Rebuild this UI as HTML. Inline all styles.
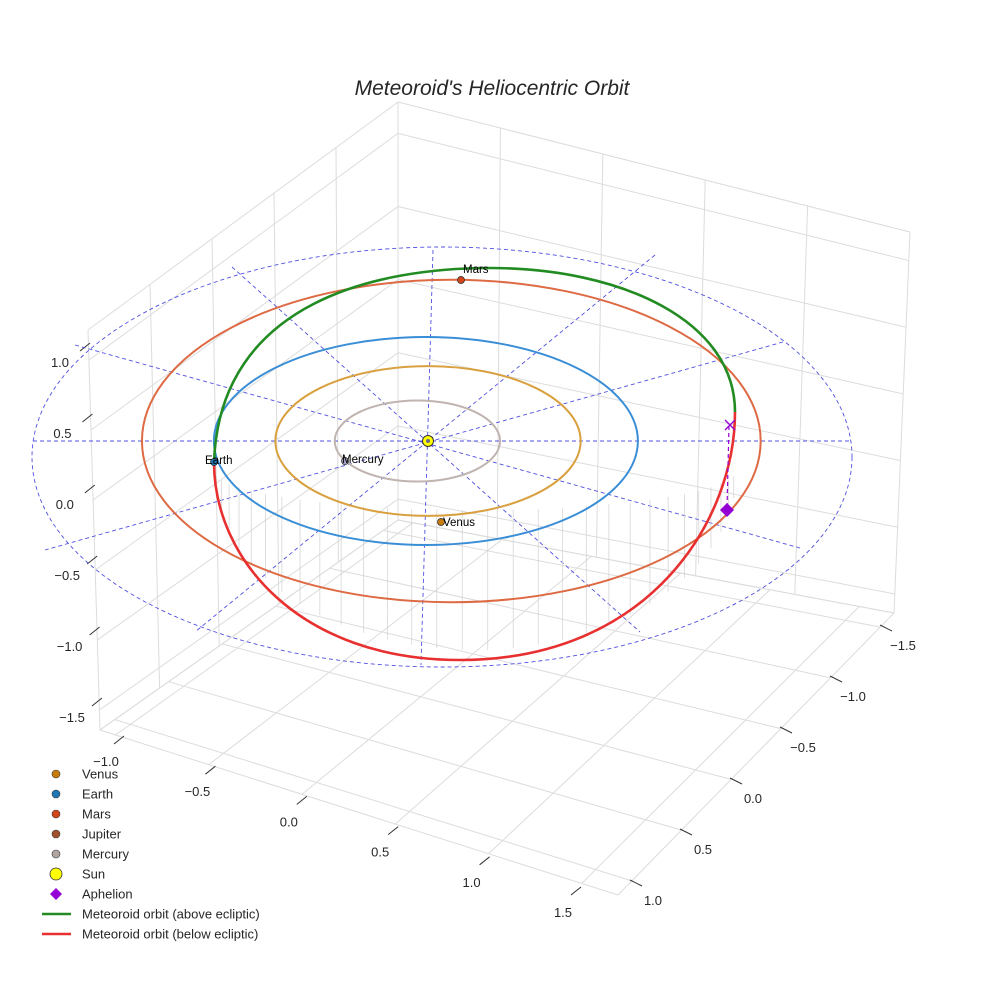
<!DOCTYPE html>
<html><head><meta charset="utf-8"><style>
html,body{margin:0;padding:0;background:#fff;}
svg{display:block;font-family:"Liberation Sans",sans-serif;}
</style></head><body>
<svg id="chart" width="984" height="984" viewBox="0 0 984 984" xmlns="http://www.w3.org/2000/svg">
<text x="492" y="95" text-anchor="middle" font-size="21" font-style="italic" fill="#262626">Meteoroid's Heliocentric Orbit</text>
<g id="grid"></g>
<g id="ticks"></g>
<g id="refs"></g>
<g id="orbits"></g>
<g id="met"></g>
<g id="marks"></g>
<g id="legend"></g>
</svg>
<script>
const NS="http://www.w3.org/2000/svg";
// data
const orbitNames=["Mercury","Venus","Earth","Mars"];
const orbitRadii=[0.39,0.72,1.0,1.52];
const orbitColors=["#c0b4b0","#d9a040","#3a8ed6","#de6a44"];
const orbitCenterShift=[-0.05,0,-0.01,0.11];
const xTicks=["−1.0","−0.5","0.0","0.5","1.0","1.5"];
const yTicks=["−1.5","−1.0","−0.5","0.0","0.5","1.0"];
const zTicks=["1.0","0.5","0.0","−0.5","−1.0","−1.5"];
const legendLabels=["Venus","Earth","Mars","Jupiter","Mercury","Sun","Aphelion","Meteoroid orbit (above ecliptic)","Meteoroid orbit (below ecliptic)"];
const legendColors=["#c77c0e","#1f77b4","#d2461c","#a0522d","#b0a49f","#ffff00","#9400d3","#228b22","#e83030"];

const CX=428,CY=441,KX=212,KY=104;
function el(tag,attrs,parent){const e=document.createElementNS(NS,tag);for(const k in attrs)e.setAttribute(k,attrs[k]);parent.appendChild(e);return e;}

// grid
const g=document.getElementById('grid');
const A=[100,730],B=[618,895],C=[894,613],D=[398,520],At=[88,330],Dt=[398,102],Ct=[910,232];
function lerp(p,q,t){return [p[0]+(q[0]-p[0])*t,p[1]+(q[1]-p[1])*t];}
function gl(a,b){const l=el('line',{x1:a[0],y1:a[1],x2:b[0],y2:b[1],stroke:'#dcdcdc','stroke-width':1},g);
  }
function quadGrid(p0,p1,p2,p3,fu,fv){
  fu.forEach(f=>gl(lerp(p0,p1,f),lerp(p3,p2,f)));
  fv.forEach(f=>gl(lerp(p0,p3,f),lerp(p1,p2,f)));
}
const fx=[0,0.03,0.21,0.39,0.57,0.75,0.93,1];
const fy=[0,0.05,0.23,0.41,0.59,0.77,0.95,1];
const fz=[0,0.05,0.225,0.4,0.575,0.75,0.925,1];
quadGrid(A,B,C,D,fx,fy.map(f=>1-f));
quadGrid(A,D,Dt,At,[0,0.2,0.4,0.6,0.8,1],fz);
quadGrid(D,C,Ct,Dt,[0,0.2,0.4,0.6,0.8,1],fz);

// ticks
const tg=document.getElementById('ticks');
xTicks.forEach((t,i)=>{const p=lerp([110,742],[567,893],i/(xTicks.length-1));
  el('line',{x1:p[0]+14,y1:p[1]-6,x2:p[0]+4,y2:p[1]+2,stroke:'#333'},tg);
  const tx=el('text',{x:p[0]-4,y:p[1]+24,'font-size':13,fill:'#262626','text-anchor':'middle'},tg);tx.textContent=t;
  });
yTicks.forEach((t,i)=>{const p=lerp([880,625],[630,880],i/(yTicks.length-1));
  el('line',{x1:p[0],y1:p[1],x2:p[0]+12,y2:p[1]+6,stroke:'#333'},tg);
  const tx=el('text',{x:p[0]+23,y:p[1]+25,'font-size':13,fill:'#262626','text-anchor':'middle'},tg);tx.textContent=t;
  });
zTicks.forEach((t,i)=>{const p=lerp([88,345],[100,700],i/(zTicks.length-1));
  el('line',{x1:p[0]-8,y1:p[1]+6,x2:p[0]+2,y2:p[1]-2,stroke:'#333'},tg);
  const tx=el('text',{x:p[0]-28,y:p[1]+22,'font-size':13,fill:'#262626','text-anchor':'middle'},tg);tx.textContent=t;
  });

// reference dashed lines
const rg=document.getElementById('refs');
const dashLines=[[33,441,852,441],[232,267,640,632],[783,342,45,550],[433,250,421,665],[655,255,195,632],[75,345,800,548]];
dashLines.forEach(d=>{const l=el('line',{x1:d[0],y1:d[1],x2:d[2],y2:d[3],stroke:'#5050e0','stroke-width':0.9,'stroke-dasharray':'4,3'},rg);
  });
const big=el('ellipse',{cx:442,cy:457,rx:410,ry:210,fill:'none',stroke:'#5050e0','stroke-width':0.9,'stroke-dasharray':'4,3'},rg);

// thin drop lines
for(let k=0;k<30;k++){const t=Math.PI*(0.05+0.9*k/29);const x=475+262*Math.cos(t+Math.PI);
  const l=el('line',{x1:x,y1:470+Math.abs(Math.sin(t))*40,x2:x,y2:470+Math.abs(Math.sin(t))*180,stroke:'#d0d0d0','stroke-width':0.7},rg);
  }

// planet orbits
const og=document.getElementById('orbits');
orbitRadii.forEach((r,i)=>{const e=el('ellipse',{cx:CX+orbitCenterShift[i]*KX,cy:CY,rx:r*KX*(i==3?0.96:1),ry:r*KY*(i==3?1.02:1),fill:'none',stroke:orbitColors[i],'stroke-width':2},og);
  });

// meteoroid
const mg=document.getElementById('met');
const gp=el('path',{d:'M214,462 C220,300 380,268 490,268 C620,268 735,320 735,412',fill:'none',stroke:'#228b22','stroke-width':2.6},mg);

const rp=el('path',{d:'M735,412 C735,520 650,660 460,660 C300,660 214,560 214,462',fill:'none',stroke:'#e83030','stroke-width':2.6},mg);


// markers
const kg=document.getElementById('marks');
const planets=[["Mars",461,280,"#d2461c",463,273],["Earth",214,462,"#1f77b4",205,464],["Venus",441,522,"#c77c0e",443,526],["Mercury",345,461,"#a8a0c0",342,463]];
planets.forEach(p=>{const c=el('circle',{cx:p[1],cy:p[2],r:3.5,fill:p[3],stroke:'#222','stroke-width':0.7},kg);
  
  const t=el('text',{x:p[4],y:p[5],'font-size':11.5,fill:'#000'},kg);t.textContent=p[0];
  });
const sun=el('circle',{cx:428,cy:441,r:5.5,fill:'#ffff00',stroke:'#333','stroke-width':1},kg);

el('circle',{cx:428,cy:441,r:2,fill:'#6a6a8a'},kg);
const dl=el('line',{x1:729,y1:426,x2:727,y2:508,stroke:'#9400d3','stroke-width':1.2,'stroke-dasharray':'4,3'},kg);

const xm=el('path',{d:'M725,420 L735,430 M735,420 L725,430',stroke:'#9400d3','stroke-width':1.4},kg);

const dm=el('path',{d:'M727,503 L734,510 L727,517 L720,510 Z',fill:'#9400d3'},kg);


// legend
const lg=document.getElementById('legend');
legendLabels.forEach((lab,i)=>{const y=774+i*20;
  let m;
  if(i<5) m=el('circle',{cx:56,cy:y,r:4,fill:legendColors[i],stroke:'#333','stroke-width':0.6},lg);
  else if(i==5) m=el('circle',{cx:56,cy:y,r:6,fill:legendColors[i],stroke:'#333','stroke-width':0.8},lg);
  else if(i==6) m=el('path',{d:`M56,${y-6} L62,${y} L56,${y+6} L50,${y} Z`,fill:legendColors[i]},lg);
  else m=el('line',{x1:42,y1:y,x2:71,y2:y,stroke:legendColors[i],'stroke-width':2.4},lg);
  
  
  const t=el('text',{x:82,y:y+4.5,'font-size':13,fill:'#262626'},lg);t.textContent=lab;
  
  
});
</script>
</body></html>
